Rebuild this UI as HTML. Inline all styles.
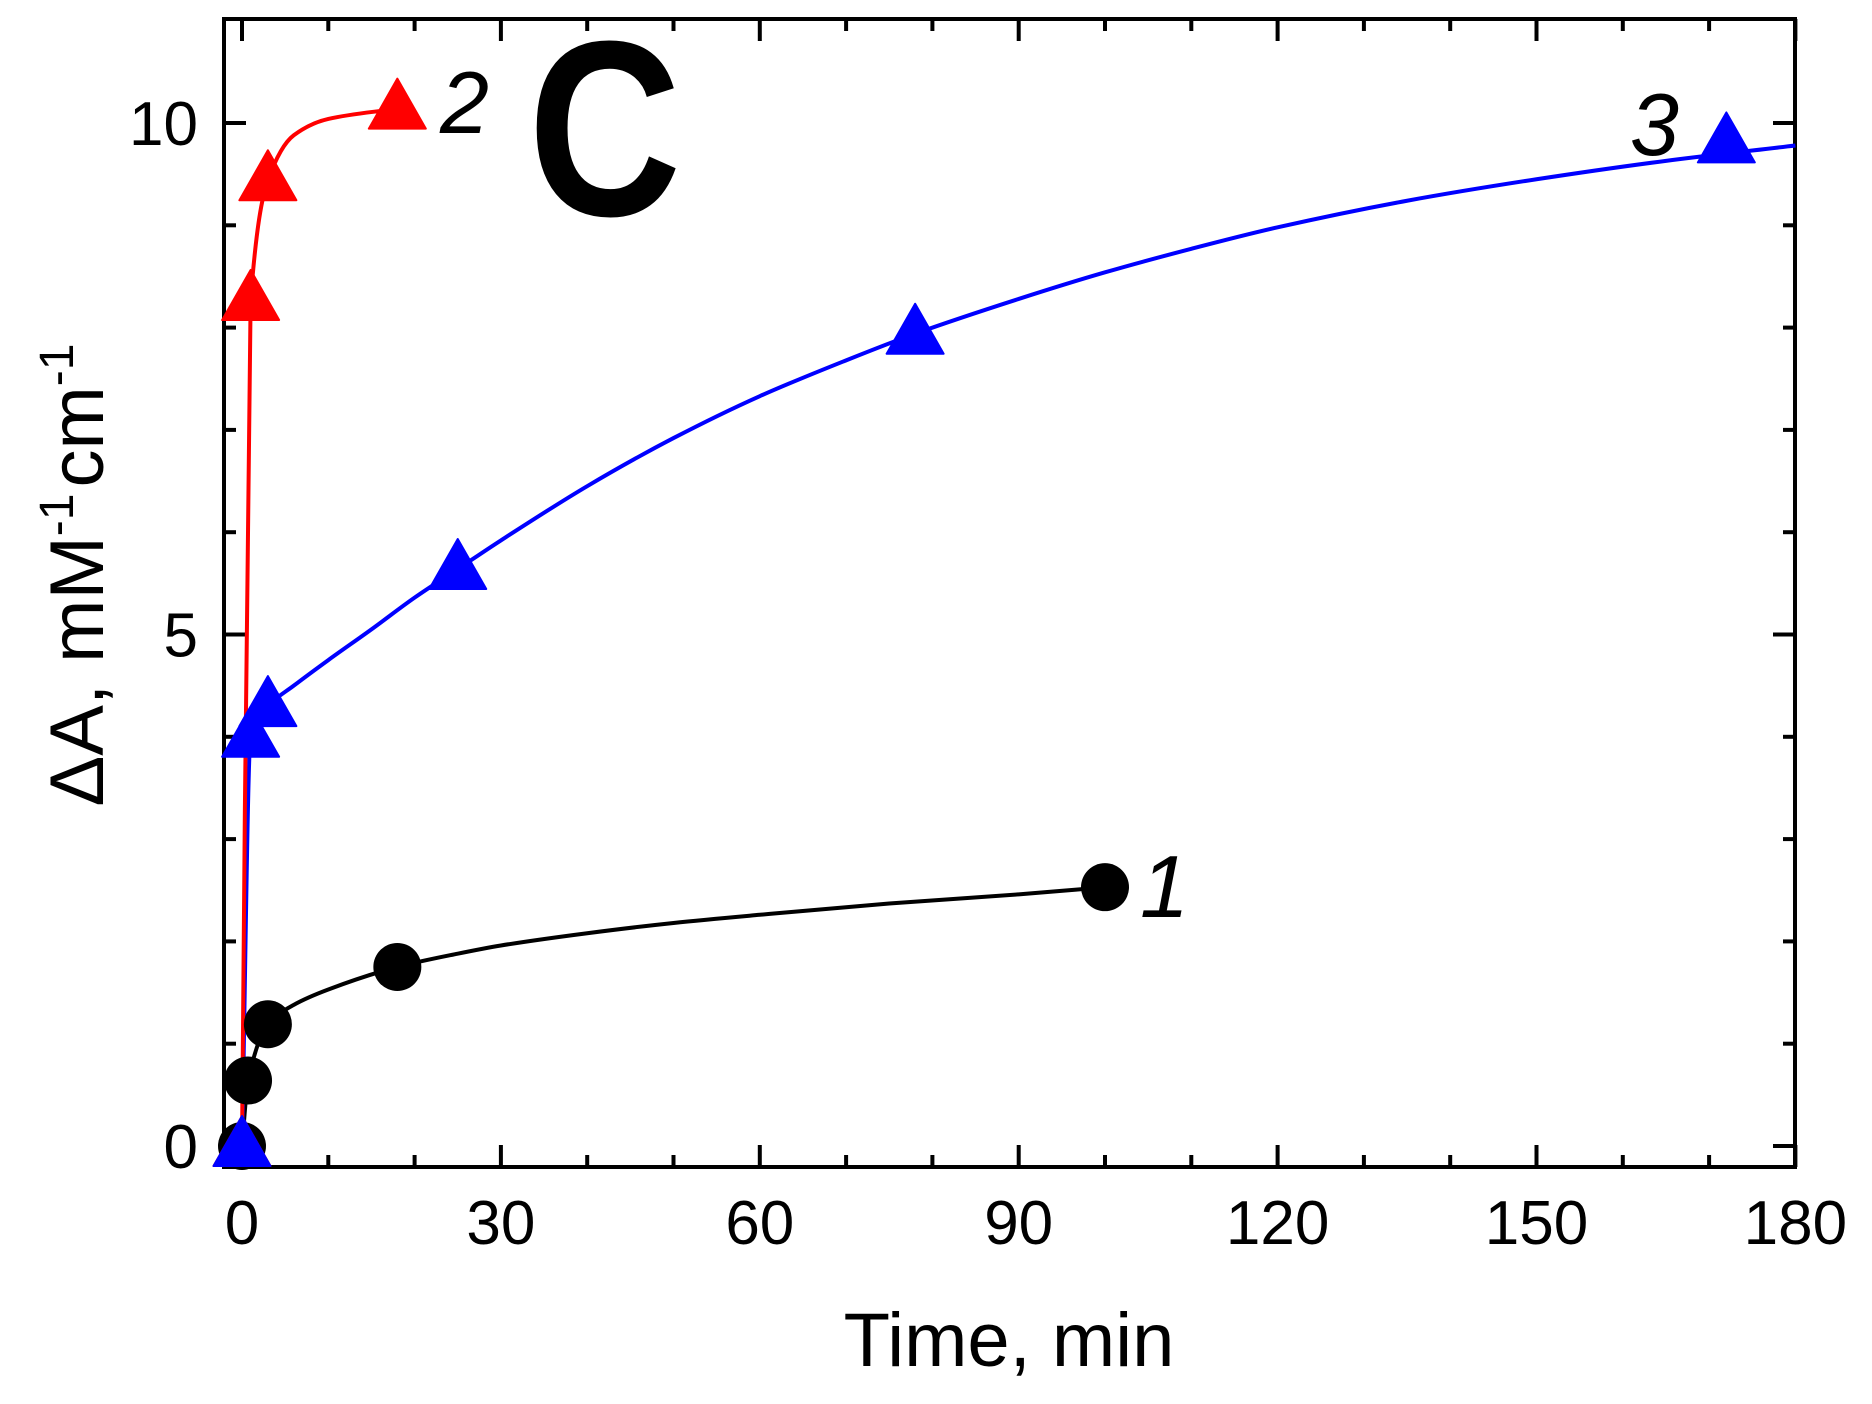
<!DOCTYPE html>
<html><head><meta charset="utf-8"><style>
html,body{margin:0;padding:0;background:#fff;}
svg{display:block;font-family:"Liberation Sans",sans-serif;}
</style></head><body>
<svg id="chart" width="1872" height="1404" viewBox="0 0 1872 1404" xmlns="http://www.w3.org/2000/svg">
<g id="frame"></g><g id="curves"></g><g id="marks"></g><g id="labels"></g>
</svg>
<script>
// data
const xTicks = [0, 30, 60, 90, 120, 150, 180];
const yTicks = [0, 5, 10];
const s1T = [0, 0.7, 3, 18, 100];
const s1Y = [0, 0.64, 1.19, 1.75, 2.53];
const s2T = [0, 1, 3, 18];
const s2Y = [0, 8.27, 9.44, 10.14];
const s3T = [0, 1, 3, 25, 78, 172];
const s3Y = [0, 4.0, 4.3, 5.64, 7.94, 9.81];
const fit1T = [0, 0.7, 3, 6, 10, 18, 25, 30, 40, 50, 60, 75, 90, 100];
const fit1Y = [0, 0.64, 1.19, 1.38, 1.53, 1.75, 1.88, 1.96, 2.08, 2.18, 2.26, 2.37, 2.46, 2.53];
const fit2T = [0, 1, 3, 6, 10, 18];
const fit2Y = [0, 8.27, 9.44, 9.88, 10.04, 10.14];
const fit3T = [0, 1, 3, 6, 10, 15, 20, 25, 30, 40, 50, 60, 70, 78, 90, 100, 110, 120, 135, 150, 165, 180];
const fit3Y = [0, 4.0, 4.3, 4.5, 4.75, 5.05, 5.36, 5.64, 5.92, 6.45, 6.92, 7.33, 7.68, 7.94, 8.28, 8.54, 8.77, 8.98, 9.24, 9.45, 9.63, 9.78];

const NS = 'http://www.w3.org/2000/svg';
const X0 = 242, XPM = 8.63;
const Y0 = 1146, YPU = 102.3;
const L = 224, R = 1795, T = 19, B = 1167;
const sx = t => X0 + t * XPM;
const sy = v => Y0 - v * YPU;
function mk(tag, parent, attrs) {
  const e = document.createElementNS(NS, tag);
  for (const k in attrs) e.setAttribute(k, attrs[k]);
  parent.appendChild(e);
  return e;
}
const frame = document.getElementById('frame');
const curves = document.getElementById('curves');
const marks = document.getElementById('marks');
const labels = document.getElementById('labels');

let box = mk('rect', frame, {x: L, y: T, width: R - L, height: B - T, fill: 'none', stroke: '#000', 'stroke-width': 4});



for (let t = 0; t <= 180; t += 10) {
  const major = t % 30 === 0;
  const len = major ? 22 : 12;
  const x = sx(t);
  let a = mk('line', frame, {x1: x, x2: x, y1: B, y2: B - len, stroke: '#000', 'stroke-width': 4});
  
  
  let b = mk('line', frame, {x1: x, x2: x, y1: T, y2: T + len, stroke: '#000', 'stroke-width': 4});
  
  
}
xTicks.forEach(t => {
  const tx = mk('text', labels, {x: sx(t), y: 1244, 'font-size': 62, 'text-anchor': 'middle'});
  tx.textContent = t;
  
  
});
for (let v = 0; v <= 10; v += 1) {
  const major = v % 5 === 0;
  const len = major ? 22 : 12;
  const y = sy(v);
  let a = mk('line', frame, {x1: L, x2: L + len, y1: y, y2: y, stroke: '#000', 'stroke-width': 4});
  
  
  let b = mk('line', frame, {x1: R, x2: R - len, y1: y, y2: y, stroke: '#000', 'stroke-width': 4});
  
  
}
yTicks.forEach(v => {
  const tx = mk('text', labels, {x: 198, y: sy(v) + 22, 'font-size': 62, 'text-anchor': 'end'});
  tx.textContent = v;
  
  
});

// monotone cubic (Fritsch-Carlson) in data space
function monoPath(X, Y) {
  const n = X.length, d = [], m = [];
  for (let i = 0; i < n - 1; i++) d.push((Y[i + 1] - Y[i]) / (X[i + 1] - X[i]));
  m[0] = d[0]; m[n - 1] = d[n - 2];
  for (let i = 1; i < n - 1; i++) m[i] = (d[i - 1] * d[i] <= 0) ? 0 : 2 / (1 / d[i - 1] + 1 / d[i]);
  let p = 'M' + sx(X[0]) + ',' + sy(Y[0]);
  for (let i = 0; i < n - 1; i++) {
    const h = X[i + 1] - X[i];
    const c1x = X[i] + h / 3, c1y = Y[i] + m[i] * h / 3;
    const c2x = X[i + 1] - h / 3, c2y = Y[i + 1] - m[i + 1] * h / 3;
    p += ' C' + sx(c1x) + ',' + sy(c1y) + ' ' + sx(c2x) + ',' + sy(c2y) + ' ' + sx(X[i + 1]) + ',' + sy(Y[i + 1]);
  }
  return p;
}
let c1 = mk('path', curves, {d: monoPath(fit1T, fit1Y), fill: 'none', stroke: '#000', 'stroke-width': 4});


let c3 = mk('path', curves, {d: monoPath(fit3T, fit3Y), fill: 'none', stroke: '#0000ff', 'stroke-width': 4});


let c2 = mk('path', curves, {d: monoPath(fit2T, fit2Y), fill: 'none', stroke: '#ff0000', 'stroke-width': 4});



function tri(x, y, color) {
  const h = 50, w = 57;
  return mk('polygon', marks, {points: `${x},${y - h * 0.6} ${x - w / 2},${y + h * 0.4} ${x + w / 2},${y + h * 0.4}`, fill: color, stroke: color, 'stroke-width': 2, 'stroke-linejoin': 'round'});
}
s1T.forEach((t, i) => {
  const c = mk('circle', marks, {cx: sx(t), cy: sy(s1Y[i]), r: 24, fill: '#000'});
  
  
});
s2T.forEach((t, i) => {
  const p = tri(sx(t), sy(s2Y[i]), '#ff0000');
  
  
});
s3T.forEach((t, i) => {
  const p = tri(sx(t), sy(s3Y[i]), '#0000ff');
  
  
});
</script>
<svg style="position:absolute;left:0;top:0" width="1872" height="1404" xmlns="http://www.w3.org/2000/svg" font-family="Liberation Sans, sans-serif">
<text x="528" y="215" font-size="250" font-weight="bold" transform="translate(528 215) scale(0.85 1) translate(-528 -215)">C</text>
<text x="440" y="133" font-size="88" font-style="italic">2</text>
<text x="1630" y="155" font-size="88" font-style="italic">3</text>
<text x="1140" y="917" font-size="88" font-style="italic">1</text>
<text x="1009" y="1366" font-size="76" text-anchor="middle">Time, min</text>
<text transform="translate(103 575) rotate(-90)" font-size="76" text-anchor="middle">ΔA, mM<tspan font-size="48" dy="-30">-1</tspan><tspan dy="30" dx="6">cm</tspan><tspan font-size="48" dy="-30">-1</tspan></text>
</svg>
</body></html>
